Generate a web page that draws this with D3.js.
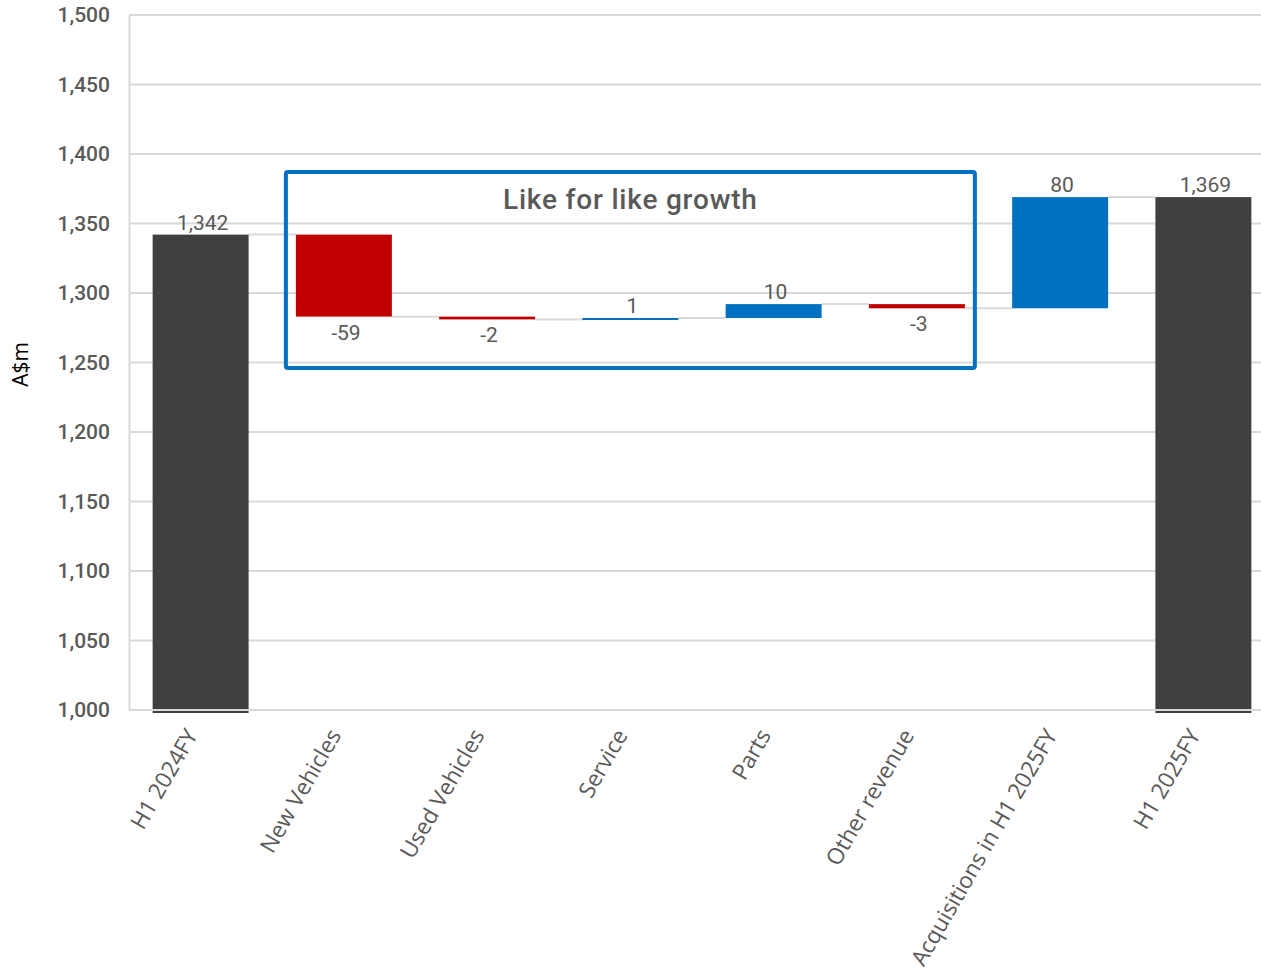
<!DOCTYPE html>
<html>
<head>
<meta charset="utf-8">
<script src="https://cdn.jsdelivr.net/npm/d3@7"></script>
<style>
  html, body { margin: 0; padding: 0; background: #fff; overflow: hidden; }
  svg { display: block; }
</style>
</head>
<body>
<svg id="chart" width="1261" height="974"></svg>
<script>
const categories = ["H1 2024FY", "New Vehicles", "Used Vehicles", "Service", "Parts", "Other revenue", "Acquisitions in H1 2025FY", "H1 2025FY"];
const kinds = ["total", "delta", "delta", "delta", "delta", "delta", "delta", "total"];
const values = [1342, -59, -2, 1, 10, -3, 80, 1369];
const yTicks = [1000, 1050, 1100, 1150, 1200, 1250, 1300, 1350, 1400, 1450, 1500];
const boxTitle = "Like for like growth";
const boxFirst = "New Vehicles", boxLast = "Other revenue";
const yTitle = "A$m";

const svg = d3.select("#chart");
const W = 1261, H = 974;
const x = d3.scaleBand().domain(categories).range([129, 1275]).paddingInner(0.33).paddingOuter(0.165);
const y = d3.scaleLinear().domain([1000, 1500]).range([710, 15]);

// compute waterfall
let run = 0;
const bars = categories.map((c, i) => {
  const v = values[i];
  let start, end;
  if (kinds[i] === "total") { start = 1000; end = v; run = v; }
  else { start = run; end = run + v; run = end; }
  return { c, v, kind: kinds[i], start, end, lo: Math.min(start, end), hi: Math.max(start, end), level: end };
});

const grey = "#d9d9d9", txt = "#595959";
const tickFont = "Roboto, 'DejaVu Sans', sans-serif";
const catFont = "'Open Sans', 'Noto Sans', sans-serif";

// gridlines
svg.append("g").selectAll("line").data(yTicks.filter(t => t > 1000)).join("line")
  .attr("x1", 129).attr("x2", W).attr("y1", d => y(d)).attr("y2", d => y(d))
  .attr("stroke", grey).attr("stroke-width", 2);

// y axis
const yAxis = svg.append("g").attr("transform", "translate(129,0)")
  .call(d3.axisLeft(y).tickValues(yTicks).tickSize(0).tickPadding(19).tickFormat(d3.format(",")));
yAxis.select(".domain").attr("stroke", grey).attr("stroke-width", 2);
yAxis.selectAll("text").attr("font-family", tickFont).attr("font-size", 21).attr("font-weight", 500).attr("fill", txt);

// connectors
const conn = [];
for (let i = 0; i < bars.length - 1; i++) {
  conn.push({ x1: x(bars[i].c) + x.bandwidth(), x2: x(bars[i + 1].c), yv: bars[i].level });
}
svg.append("g").selectAll("line").data(conn).join("line")
  .attr("x1", d => d.x1).attr("x2", d => d.x2)
  .attr("y1", d => y(d.yv)).attr("y2", d => y(d.yv))
  .attr("stroke", grey).attr("stroke-width", 2);

// bars
const colorOf = b => b.kind === "total" ? "#404040" : (b.v < 0 ? "#C00000" : "#0070C0");
svg.append("g").selectAll("rect").data(bars).join("rect")
  .attr("x", d => x(d.c)).attr("width", x.bandwidth())
  .attr("y", d => y(d.hi))
  .attr("height", d => Math.max(2, (d.kind === "total" ? y(d.lo) + 3 : y(d.lo)) - y(d.hi)))
  .attr("fill", colorOf);

// x axis baseline
svg.append("line").attr("x1", 129).attr("x2", W).attr("y1", y(1000)).attr("y2", y(1000))
  .attr("stroke", grey).attr("stroke-width", 2);

// value labels
svg.append("g").selectAll("text").data(bars).join("text")
  .attr("x", d => x(d.c) + x.bandwidth() / 2 + 2)
  .attr("y", d => d.v < 0 ? y(d.lo) + 23 : y(d.hi) - 5)
  .attr("text-anchor", "middle")
  .attr("font-family", tickFont).attr("font-size", 21).attr("fill", txt)
  .text(d => d3.format(",")(d.v).replace("−", "-"));

// category labels
svg.append("g").selectAll("text").data(categories).join("text")
  .attr("transform", d => `translate(${x(d) + x.bandwidth() / 2 - 2},${y(1000) + 25}) rotate(-60)`)
  .attr("text-anchor", "end")
  .attr("font-family", catFont).attr("font-size", 22.5).attr("fill", txt)
  .text(d => d);

// y title
svg.append("text").attr("transform", `translate(28,${(y(1000) + y(1500)) / 2 + 2}) rotate(-90)`)
  .attr("text-anchor", "middle").attr("font-family", catFont).attr("font-size", 21).attr("fill", "#000")
  .text(yTitle);

// box
const bx1 = x(boxFirst) - 10, bx2 = x(boxLast) + x.bandwidth() + 10;
svg.append("rect").attr("x", bx1).attr("y", y(1387)).attr("width", bx2 - bx1).attr("height", y(1246) - y(1387))
  .attr("fill", "none").attr("stroke", "#0070C0").attr("stroke-width", 4).attr("rx", 2);
svg.append("text").attr("x", (bx1 + bx2) / 2).attr("y", y(1387) + 37)
  .attr("text-anchor", "middle").attr("font-family", tickFont).attr("font-size", 28).attr("font-weight", 500)
  .attr("letter-spacing", 0.8).attr("fill", txt)
  .text(boxTitle);
</script>
</body>
</html>
